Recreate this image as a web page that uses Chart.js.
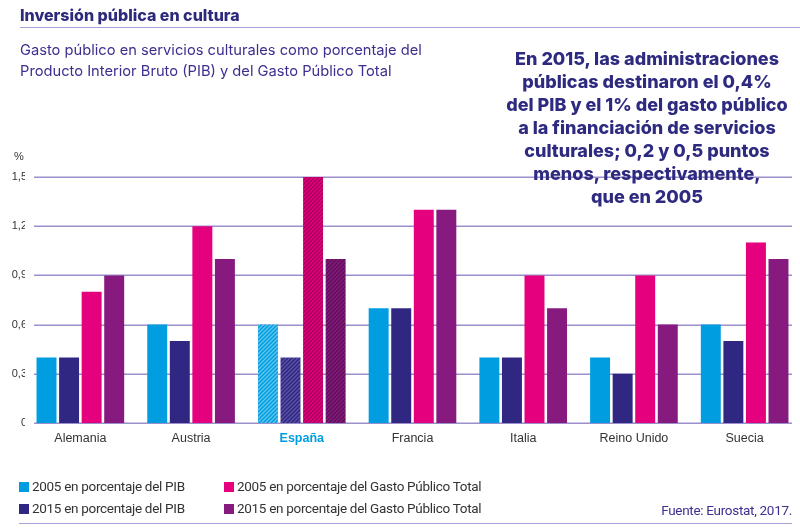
<!DOCTYPE html>
<html lang="es">
<head>
  <meta charset="UTF-8">
  <title>Inversión pública en cultura</title>
  <script src="https://cdn.jsdelivr.net/npm/chart.js"></script>
  <style>
    html, body {
      margin: 0;
      padding: 0;
      background: #fff;
      overflow: hidden;
    }
    #wrap {
      position: relative;
      width: 800px;
      height: 530px;
      font-family: Inter, "Liberation Sans", Arial, sans-serif;
    }
    #chart {
      position: absolute;
      left: 0;
      top: 0;
    }
    .abs { position: absolute; white-space: nowrap; }
    #title {
      left: 20px; top: 5px;
      font-size: 16px; font-weight: 800; color: #2d2a7b;
    }
    #rule-top { left: 20px; top: 27px; width: 780px; height: 0; border-top: 1.5px solid #aaa2d6; }
    #subtitle {
      left: 20px; top: 40px;
      font-size: 14.7px; line-height: 21px; color: #3d2f8f;
    }
    #note {
      left: 500px; top: 47px; width: 294px;
      text-align: center;
      font-size: 18px; line-height: 23px; font-weight: 800; color: #2e2a80;
    }
    #pct { left: 14px; top: 150px; font-size: 11px; color: #333; font-family: "Liberation Sans", Arial, sans-serif; }
    .legend { font-size: 13.5px; letter-spacing: -0.3px; color: #333; font-family: Roboto, "Liberation Sans", sans-serif; }
    .legend i {
      display: inline-block; width: 10px; height: 10px;
      margin-right: 3px; vertical-align: -1px;
    }
    #source { right: 8px; top: 502px; font-size: 13.5px; letter-spacing: -0.3px; color: #3d2f8f; font-family: Roboto, sans-serif; }
    #rule-bottom { left: 19px; top: 523px; width: 773px; height: 0; border-top: 1.5px solid #aaa2d6; }
  </style>
</head>
<body>
  <div id="wrap">
    <canvas id="chart" width="800" height="530"></canvas>
    <div id="title" class="abs">Inversión pública en cultura</div>
    <div id="rule-top" class="abs"></div>
    <div id="subtitle" class="abs">Gasto público en servicios culturales como porcentaje del<br>Producto Interior Bruto (PIB) y del Gasto Público Total</div>
    <div id="note" class="abs">En 2015, las administraciones<br>públicas destinaron el 0,4%<br>del PIB y el 1% del gasto público<br>a la financiación de servicios<br>culturales; 0,2 y 0,5 puntos<br>menos, respectivamente,<br>que en 2005</div>
    <div id="pct" class="abs">%</div>
    <div id="legend"></div>
    <div id="source" class="abs">Fuente: Eurostat, 2017.</div>
    <div id="rule-bottom" class="abs"></div>
  </div>

  <script>
    const countries = ['Alemania', 'Austria', 'España', 'Francia', 'Italia', 'Reino Unido', 'Suecia'];
    const pib2005 = [0.4, 0.6, 0.6, 0.7, 0.4, 0.4, 0.6];
    const pib2015 = [0.4, 0.5, 0.4, 0.7, 0.4, 0.3, 0.5];
    const gasto2005 = [0.8, 1.2, 1.5, 1.3, 0.9, 0.9, 1.1];
    const gasto2015 = [0.9, 1.0, 1.0, 1.3, 0.7, 0.6, 1.0];
    const yTicks = [0, 0.3, 0.6, 0.9, 1.2, 1.5];
    const seriesLabels = [
      '2005 en porcentaje del PIB',
      '2015 en porcentaje del PIB',
      '2005 en porcentaje del Gasto Público Total',
      '2015 en porcentaje del Gasto Público Total'
    ];

    const CYAN = '#009ee0', NAVY = '#302783', PINK = '#e5007d', PURPLE = '#861a7e';
    const highlight = countries.indexOf('España');

    // diagonal stripes for the highlighted country
    const hatch = (base, stripe) => {
      const c = document.createElement('canvas');
      c.width = 4; c.height = 4;
      const g = c.getContext('2d');
      g.fillStyle = base;
      g.fillRect(0, 0, 4, 4);
      g.strokeStyle = stripe;
      g.lineWidth = 1.3;
      g.beginPath();
      g.moveTo(-1, 1); g.lineTo(1, -1);
      g.moveTo(0, 4); g.lineTo(4, 0);
      g.moveTo(3, 5); g.lineTo(5, 3);
      g.stroke();
      return document.getElementById('chart').getContext('2d').createPattern(c, 'repeat');
    };

    const makeSet = (label, data, color, stripe) => {
      const pat = hatch(color, stripe);
      return {
        label: label,
        data: data,
        backgroundColor: ctx => ctx.dataIndex === highlight ? pat : color,
        borderWidth: 0,
        categoryPercentage: 0.815,
        barPercentage: 0.885
      };
    };

    // gridlines only between x=34 and x=792, like the original
    const gridPlugin = {
      id: 'gridLines',
      beforeDatasetsDraw(chart) {
        const y = chart.scales.y;
        const g = chart.ctx;
        g.save();
        g.strokeStyle = '#9b90cc';
        g.lineWidth = 1.5;
        yTicks.forEach(v => {
          const py = Math.round(y.getPixelForValue(v)) + 0.25;
          g.beginPath();
          g.moveTo(34, py);
          g.lineTo(792, py);
          g.stroke();
        });
        g.restore();
      }
    };

    new Chart(document.getElementById('chart'), {
      type: 'bar',
      data: {
        labels: countries,
        datasets: [
          makeSet(seriesLabels[0], pib2005, CYAN, '#63c6f0'),
          makeSet(seriesLabels[1], pib2015, NAVY, '#5b52a6'),
          makeSet(seriesLabels[2], gasto2005, PINK, '#a3005c'),
          makeSet(seriesLabels[3], gasto2015, PURPLE, '#5a0f56')
        ]
      },
      options: {
        responsive: false,
        animation: false,
        layout: { padding: { top: 177, bottom: 77, left: 0, right: 0 } },
        plugins: {
          legend: { display: false },
          tooltip: { enabled: false }
        },
        scales: {
          x: {
            grid: { display: false },
            border: { display: false },
            ticks: {
              padding: 0,
              color: ctx => ctx.index === highlight ? CYAN : '#333',
              font: ctx => ({
                family: '"Liberation Sans", Arial, sans-serif',
                size: 12.5,
                weight: ctx.index === highlight ? 'bold' : 'normal'
              })
            },
            afterFit: s => { s.height = 30; }
          },
          y: {
            min: 0,
            max: 1.5,
            grid: { display: false },
            border: { display: false },
            afterBuildTicks: s => { s.ticks = yTicks.map(v => ({ value: v })); },
            ticks: {
              padding: -10,
              color: '#333',
              font: { family: '"Liberation Sans", Arial, sans-serif', size: 11 },
              callback: v => v === 0 ? '0' : v.toFixed(1).replace('.', ',')
            },
            afterFit: s => { s.width = 25; }
          }
        }
      },
      plugins: [gridPlugin]
    });

    // legend in two columns, built from the series labels
    const colors = [CYAN, NAVY, PINK, PURPLE];
    const legendPos = [[19, 478], [19, 500], [224, 478], [224, 500]];
    const legend = document.getElementById('legend');
    seriesLabels.forEach((txt, i) => {
      const d = document.createElement('div');
      d.className = 'abs legend';
      d.style.left = legendPos[i][0] + 'px';
      d.style.top = legendPos[i][1] + 'px';
      d.innerHTML = '<i style="background:' + colors[i] + '"></i>' + txt;
      legend.appendChild(d);
    });
  </script>
</body>
</html>
